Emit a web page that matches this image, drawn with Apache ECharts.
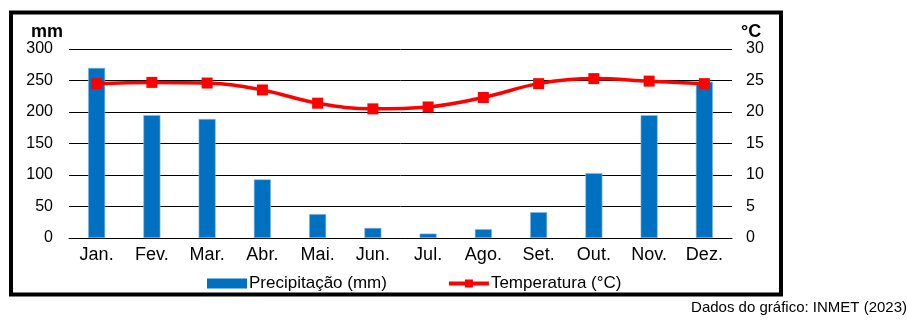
<!DOCTYPE html>
<html><head><meta charset="utf-8">
<script src="https://cdn.jsdelivr.net/npm/echarts@6/dist/echarts.min.js"></script>
<style>html,body{margin:0;padding:0;background:#fff}#c{width:908px;height:325px}</style>
</head><body><div id="c"></div>
<script>
const months = ['Jan.','Fev.','Mar.','Abr.','Mai.','Jun.','Jul.','Ago.','Set.','Out.','Nov.','Dez.'];
const precipitacao = [270, 195, 189, 93, 38, 16, 7, 14, 41, 103, 195, 248];
const temperatura = [24.5, 24.7, 24.6, 23.5, 21.4, 20.5, 20.8, 22.3, 24.5, 25.3, 24.9, 24.5];
const leftTicks = [0, 300, 50];
const rightTicks = [0, 30, 5];

const chart = echarts.init(document.getElementById('c'), null, {renderer:'canvas'});
const font = 'Liberation Sans, Arial, sans-serif';
chart.setOption({
  animation:false,
  textStyle:{fontFamily:font},
  grid:{left:69, right:176, top:49, bottom:87},
  legend:{
    left:202, top:270, itemGap:60, itemWidth:40, itemHeight:10,
    textStyle:{fontFamily:font, fontSize:17, color:'#000', padding:[0,0,0,-3]},
    data:[
      {name:'Precipitação (mm)', icon:'rect', itemStyle:{borderWidth:0}},
      {name:'Temperatura (°C)', lineStyle:{width:4}}
    ]
  },
  xAxis:{
    type:'category', data:months,
    axisLine:{lineStyle:{color:'#000', width:1}},
    axisTick:{show:false},
    axisLabel:{color:'#000', fontSize:18, fontFamily:font, margin:8}
  },
  yAxis:[
    {type:'value', min:leftTicks[0], max:leftTicks[1], interval:leftTicks[2],
     axisLine:{show:false}, axisTick:{show:false},
     axisLabel:{color:'#000', fontSize:16, fontFamily:font, margin:16},
     splitLine:{lineStyle:{color:'#000', width:1}}},
    {type:'value', min:rightTicks[0], max:rightTicks[1], interval:rightTicks[2],
     axisLine:{show:false}, axisTick:{show:false},
     axisLabel:{color:'#000', fontSize:16, fontFamily:font, margin:14},
     splitLine:{show:false}}
  ],
  series:[
    {name:'Precipitação (mm)', type:'bar', data:precipitacao, barWidth:17,
     itemStyle:{color:'#0070C0', borderColor:'#8FB8E0', borderWidth:0.6}},
    {name:'Temperatura (°C)', type:'line', yAxisIndex:1, data:temperatura,
     smooth:0.4, symbol:'rect', symbolSize:11,
     lineStyle:{color:'#FF0000', width:3.5}, itemStyle:{color:'#FF0000'}}
  ],
  graphic:[
    {type:'rect', shape:{x:11, y:12.5, width:770, height:282}, style:{fill:null, stroke:'#000', lineWidth:4}, silent:true},
    {type:'text', left:31, top:23, style:{text:'mm', font:'bold 18px '+font, fill:'#000'}},
    {type:'text', left:741, top:23, style:{text:'°C', font:'bold 18px '+font, fill:'#000'}},
    {type:'text', right:1, top:300, style:{text:'Dados do gráfico: INMET (2023)', font:'15px '+font, fill:'#000'}}
  ]
});
</script></body></html>
